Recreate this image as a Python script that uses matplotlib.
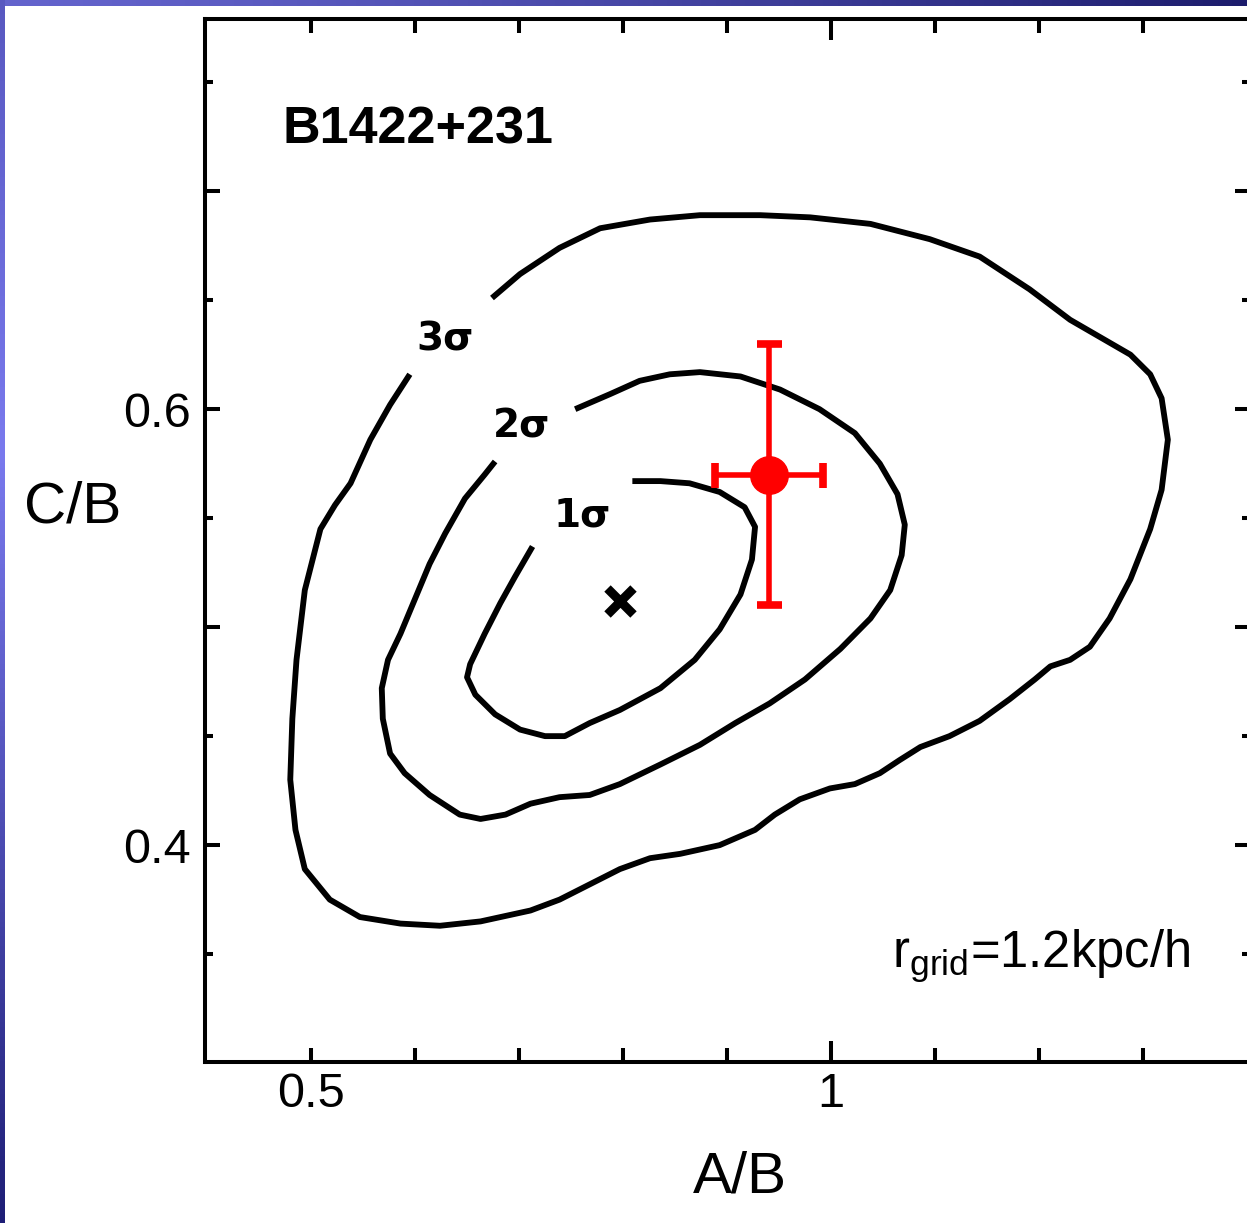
import numpy as np
import matplotlib
matplotlib.use('Agg')
import matplotlib.pyplot as plt

plt.rcParams['font.family'] = ['Liberation Sans', 'DejaVu Sans']
plt.rcParams['mathtext.fontset'] = 'custom'
plt.rcParams['mathtext.rm'] = 'Liberation Sans'
plt.rcParams['mathtext.it'] = 'Liberation Sans:italic'

# contour traces (A/B, C/B), open where the labels sit
sig3_x = [0.674, 0.701, 0.739, 0.778, 0.826, 0.874, 0.932, 0.980, 1.038, 1.095,
          1.143, 1.191, 1.230, 1.259, 1.288, 1.307, 1.318, 1.324, 1.318, 1.307,
          1.288, 1.268, 1.249, 1.230, 1.211, 1.196, 1.172, 1.143, 1.114, 1.086,
          1.066, 1.047, 1.023, 0.999, 0.970, 0.946, 0.927, 0.893, 0.855, 0.826,
          0.797, 0.768, 0.739, 0.711, 0.663, 0.624, 0.586, 0.547, 0.518, 0.494,
          0.485, 0.480, 0.482, 0.486, 0.494, 0.509, 0.523, 0.538, 0.557, 0.576,
          0.595]
sig3_y = [0.651, 0.662, 0.674, 0.683, 0.687, 0.689, 0.689, 0.688, 0.685, 0.678,
          0.670, 0.655, 0.641, 0.633, 0.625, 0.616, 0.605, 0.586, 0.563, 0.545,
          0.522, 0.504, 0.491, 0.485, 0.482, 0.476, 0.467, 0.457, 0.450, 0.445,
          0.439, 0.433, 0.428, 0.426, 0.421, 0.414, 0.407, 0.400, 0.396, 0.394,
          0.389, 0.382, 0.375, 0.370, 0.365, 0.363, 0.364, 0.367, 0.375, 0.389,
          0.407, 0.430, 0.458, 0.485, 0.517, 0.545, 0.556, 0.566, 0.586, 0.602,
          0.616]

sig2_x = [0.754, 0.788, 0.816, 0.845, 0.874, 0.913, 0.951, 0.989, 1.023, 1.047,
          1.064, 1.071, 1.068, 1.057, 1.038, 1.009, 0.975, 0.941, 0.908, 0.874,
          0.836, 0.797, 0.768, 0.739, 0.711, 0.687, 0.663, 0.643, 0.614, 0.590,
          0.576, 0.569, 0.568, 0.574, 0.586, 0.600, 0.614, 0.629, 0.648, 0.667,
          0.677]
sig2_y = [0.600, 0.607, 0.613, 0.616, 0.617, 0.615, 0.609, 0.600, 0.589, 0.575,
          0.561, 0.547, 0.533, 0.517, 0.504, 0.490, 0.476, 0.465, 0.456, 0.446,
          0.437, 0.428, 0.423, 0.422, 0.419, 0.414, 0.412, 0.414, 0.423, 0.433,
          0.442, 0.458, 0.472, 0.485, 0.497, 0.513, 0.529, 0.543, 0.559, 0.570,
          0.576]

sig1_x = [0.809, 0.836, 0.864, 0.893, 0.917, 0.927, 0.924, 0.913, 0.893, 0.869,
          0.836, 0.797, 0.768, 0.744, 0.725, 0.701, 0.677, 0.658, 0.650, 0.653,
          0.667, 0.682, 0.696, 0.713]
sig1_y = [0.567, 0.567, 0.566, 0.562, 0.555, 0.546, 0.531, 0.515, 0.499, 0.485,
          0.472, 0.462, 0.456, 0.450, 0.450, 0.453, 0.460, 0.469, 0.477, 0.483,
          0.497, 0.511, 0.523, 0.537]

sig_labels = ['3σ', '2σ', '1σ']
sig_label_x = [0.629, 0.702, 0.761]
sig_label_y = [0.632, 0.592, 0.551]

# best model (cross) and observed ratio with errors
best_x, best_y = 0.797, 0.512
obs_x, obs_y = 0.940, 0.570
obs_xerr, obs_yerr = 0.052, 0.060

fig = plt.figure(figsize=(12.47, 12.23), dpi=100)

# slide background strips
top = fig.add_axes([0, 1 - 6 / 1223, 1, 6 / 1223])
c0 = np.array([100, 100, 205]) / 255
c1 = np.array([28, 28, 108]) / 255
t = np.linspace(0, 1, 256)[None, :, None]
top.imshow(c0 + (c1 - c0) * t ** 1.3, aspect='auto')
top.axis('off')
left = fig.add_axes([0, 0, 5 / 1247, 1])
s = np.linspace(0, 1, 256)
cols = np.empty((256, 1, 3))
ca = np.array([88, 88, 192]) / 255
cb = np.array([122, 122, 238]) / 255
cc = np.array([30, 30, 118]) / 255
for i, v in enumerate(s):
    cols[i, 0] = ca + (cb - ca) * v / 0.37 if v < 0.37 else cb + (cc - cb) * (v - 0.37) / 0.63
left.imshow(cols, aspect='auto')
left.axis('off')

ax = fig.add_axes([205 / 1247, 161 / 1223, 1045 / 1247, 1043 / 1223])
ax.set_xlim(0.398, 1.403)
ax.set_ylim(0.3005, 0.779)

lw = 4.2
for xs, ys in [(sig3_x, sig3_y), (sig2_x, sig2_y), (sig1_x, sig1_y)]:
    ax.plot(xs, ys, '-', color='black', lw=lw, solid_joinstyle='round',
            solid_capstyle='butt')

for lab, lx, ly in zip(sig_labels, sig_label_x, sig_label_y):
    ax.text(lx, ly, lab, family='DejaVu Sans', fontweight='bold', fontsize=28,
            ha='center', va='center')

ax.plot(best_x, best_y, marker='x', color='black', ms=19, mew=6.5, ls='none')
ax.errorbar(obs_x, obs_y, xerr=obs_xerr, yerr=obs_yerr, fmt='o', color='#ff0000',
            ms=27, elinewidth=4, capsize=9, capthick=5.5)

ax.text(0.0746, 0.894, 'B1422+231', transform=ax.transAxes, fontsize=37.5,
        fontweight='bold', ha='left', va='center')
ax.text(0.943, 0.091, r'r$_{\rm grid}$=1.2kpc/h', transform=ax.transAxes,
        fontsize=36.5, ha='right', va='baseline')

# ticks
ax.set_xticks([1.0])
ax.set_xticklabels(['1'])
ax.set_xticks([0.5, 0.6, 0.7, 0.8, 0.9, 1.1, 1.2, 1.3], minor=True)
ax.set_xticklabels(['0.5', '', '', '', '', '', '', ''], minor=True)
ax.set_yticks([0.4, 0.5, 0.6, 0.7])
ax.set_yticklabels(['0.4', '', '0.6', ''])
ax.set_yticks([0.35, 0.45, 0.55, 0.65, 0.75], minor=True)
ax.tick_params(which='both', direction='in', top=True, right=True, width=2.9,
               labelsize=35, color='black')
ax.tick_params(axis='x', which='major', length=15, pad=7)
ax.tick_params(axis='x', which='minor', length=10, pad=7)
ax.tick_params(axis='y', which='major', length=11, pad=10)
ax.tick_params(axis='y', which='minor', length=6, pad=10)
for sp in ax.spines.values():
    sp.set_linewidth(2.9)

ax.set_xlabel('A/B', fontsize=42)
ax.xaxis.set_label_coords(0.512, -0.111)
ax.xaxis.label.set_va('center')
ax.set_ylabel('C/B', fontsize=42, rotation=0)
ax.yaxis.set_label_coords(-0.127, 0.532)
ax.yaxis.label.set_va('center')
ax.yaxis.label.set_ha('center')

fig.savefig('out.png', dpi=100)
